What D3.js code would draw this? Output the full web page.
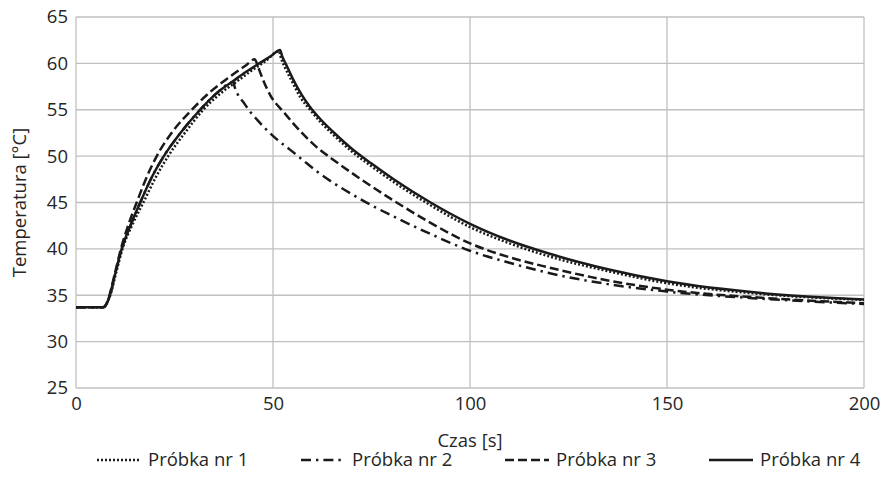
<!DOCTYPE html>
<html>
<head>
<meta charset="utf-8">
<script src="https://cdn.jsdelivr.net/npm/d3@7"></script>
<style>
body { margin: 0; background: #fff; }
text { font-family: "Open Sans", sans-serif; fill: #262626; }
</style>
</head>
<body>
<svg id="chart" width="880" height="489"></svg>
<script>
// series names
var names = ["Próbka nr 1", "Próbka nr 2", "Próbka nr 3", "Próbka nr 4"]

// Próbka nr 1 (dotted)
var t1 = [0, 6.9, 7.5, 8.1, 8.7, 10.1, 11.8, 14.3, 17.1, 20.1, 23.4, 27.8, 32.3, 36.8, 41, 44.5, 48, 51.5,
	52, 53, 55, 57, 59.4, 62, 65.3, 70, 75, 81, 90, 100, 110, 120, 135, 150, 175, 200]
var y1 = [33.7, 33.7, 33.9, 34.4, 35, 37.3, 40, 42.6, 45, 47.6, 50, 52.6, 55, 56.8, 58.1, 59.2, 60.2, 61.3,
	60.6, 59.6, 57.9, 56.3, 55, 53.7, 52.3, 50.5, 48.9, 47.1, 44.7, 42.35, 40.6, 39.2, 37.6, 36.3, 35.1, 34.5]

// Próbka nr 2 (dash-dot)
var t2 = [0, 6.9, 7.5, 8.1, 8.6, 10, 11.6, 13.9, 16.3, 19.2, 22.3, 26.7, 31.5, 36, 39.9,
	40.3, 41, 42.5, 44, 46, 48, 51, 54.3, 57.5, 61, 65, 70, 75, 82, 90, 100, 110, 120, 135, 150, 175, 200]
var y2 = [33.7, 33.7, 33.9, 34.4, 35, 37.4, 40, 42.6, 45, 47.7, 50, 52.6, 55, 56.9, 58.0,
	57.4, 56.7, 55.8, 54.9, 53.9, 53.0, 51.8, 50.7, 49.6, 48.4, 47.2, 45.9, 44.7, 43.2, 41.6, 39.8, 38.5, 37.4, 36.2, 35.4, 34.6, 34.05]

// Próbka nr 3 (dashed)
var t3 = [0, 6.9, 7.5, 8.1, 8.5, 9.9, 11.4, 13.3, 15.4, 17.8, 20.5, 24.6, 29.4, 34, 38.5, 43, 45.4,
	45.9, 46.5, 47.5, 49.4, 52.6, 56.9, 61, 65, 72, 81, 90, 100, 110, 120, 135, 150, 175, 200]
var y3 = [33.7, 33.7, 33.9, 34.4, 35, 37.4, 40, 42.6, 45, 47.6, 50, 52.7, 55, 56.9, 58.4, 59.75, 60.45,
	60.0, 59.3, 58.2, 56.5, 54.8, 52.7, 51.0, 49.7, 47.6, 45.1, 42.8, 40.6, 39.1, 38.0, 36.6, 35.6, 34.7, 34.15]

// Próbka nr 4 (solid)
var t4 = [0, 6.9, 7.5, 8.1, 8.6, 10, 11.6, 13.9, 16.3, 19.2, 22.3, 26.7, 31.5, 36, 39.9, 43, 46.7, 49.5, 51.8,
	52.3, 53.3, 55.2, 57.3, 59.4, 62, 65.3, 70, 75, 81, 90, 100, 110, 120, 135, 150, 175, 200]
var y4 = [33.7, 33.7, 33.9, 34.4, 35, 37.4, 40, 42.6, 45, 47.7, 50, 52.6, 55, 56.9, 58.1, 59.05, 60.05, 60.8, 61.45,
	60.8, 59.9, 58.2, 56.6, 55.3, 54.0, 52.6, 50.8, 49.2, 47.4, 45.0, 42.7, 40.9, 39.5, 37.8, 36.5, 35.2, 34.55]

var xTicks = [0, 50, 100, 150, 200]
var yTicks = [25, 30, 35, 40, 45, 50, 55, 60, 65]

var series = [
	{name: names[0], t: t1, v: y1, dash: "2,2"},
	{name: names[1], t: t2, v: y2, dash: "10,5,2.4,5"},
	{name: names[2], t: t3, v: y3, dash: "9,4"},
	{name: names[3], t: t4, v: y4, dash: null}
]

var svg = d3.select("#chart")

var x = d3.scaleLinear().domain([0, 200]).range([76, 864])
var y = d3.scaleLinear().domain([25, 65]).range([388, 17])

//grid
svg.append("g").
	selectAll("line").
	data(yTicks).
	enter().
	append("line").
	attr("x1", x(0)).
	attr("x2", x(200)).
	attr("y1", function(d){ return y(d) }).
	attr("y2", function(d){ return y(d) }).
	style("stroke", "#c0c0c0").
	style("stroke-width", 1.3)

svg.append("g").
	selectAll("line").
	data(xTicks).
	enter().
	append("line").
	attr("x1", function(d){ return x(d) }).
	attr("x2", function(d){ return x(d) }).
	attr("y1", y(25)).
	attr("y2", y(65)).
	style("stroke", "#c0c0c0").
	style("stroke-width", 1.3)

//axes (labels only, lines come from grid)
svg.append("g").
	attr("transform", "translate(0," + y(25) + ")").
	call(d3.axisBottom(x).tickValues(xTicks).tickSize(0).tickPadding(9))
svg.append("g").
	attr("transform", "translate(" + x(0) + ",0)").
	call(d3.axisLeft(y).tickValues(yTicks).tickSize(0).tickPadding(8))

svg.selectAll(".domain").remove()
svg.selectAll(".tick text").
	style("font-family", "'Open Sans', sans-serif").
	style("font-size", "18.5px").
	style("fill", "#262626")

svg.append("text").
	attr("x", x(100)).
	attr("y", 447).
	attr("text-anchor", "middle").
	style("font-size", "18.5px").
	text("Czas [s]")

svg.append("text").
	attr("transform", "translate(26," + y(45) + ") rotate(-90)").
	attr("text-anchor", "middle").
	style("font-size", "18.5px").
	text("Temperatura [°C]")

//lines
var line = d3.line().
	x(function(d){ return x(d[0]) }).
	y(function(d){ return y(d[1]) }).
	curve(d3.curveMonotoneX)

svg.append("g").
	selectAll("path").
	data(series).
	enter().
	append("path").
	attr("d", function(d){
		return line(d.t.map(function(t, i){ return [t, d.v[i]] }))
	}).
	style("fill", "none").
	style("stroke", "#1a1a1a").
	style("stroke-width", 2.5).
	style("stroke-dasharray", function(d){ return d.dash })

//legend
var legendX = [97, 301, 505, 709]
var leg = svg.append("g").
	selectAll("g").
	data(series).
	enter().
	append("g").
	attr("transform", function(d, i){ return "translate(" + legendX[i] + ",466)" })

leg.append("line").
	attr("x1", 0).
	attr("x2", 44).
	attr("y1", -6).
	attr("y2", -6).
	style("stroke", "#1a1a1a").
	style("stroke-width", 2.5).
	style("stroke-dasharray", function(d){ return d.dash })

leg.append("text").
	attr("x", 51).
	attr("y", 0).
	style("font-size", "18.5px").
	text(function(d){ return d.name })
</script>
</body>
</html>
